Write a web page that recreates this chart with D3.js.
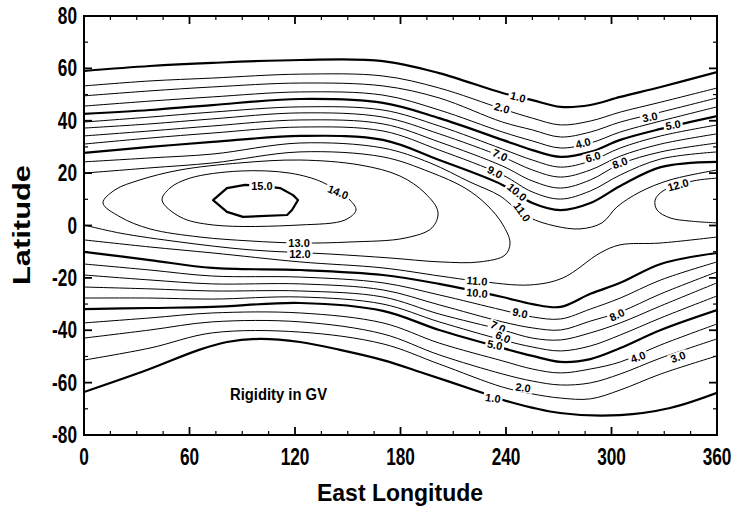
<!DOCTYPE html>
<html><head><meta charset="utf-8">
<script src="https://cdn.jsdelivr.net/npm/d3@7"></script>
<style>body{margin:0;background:#fff}</style>
</head><body>
<svg id="c" width="739" height="514"></svg>
<script>
// ---- data (rigidity contours, GV) ----
const lonCols = [0, 37.5, 73, 123, 170, 202, 238, 255, 271, 288, 305, 328, 360];
// northern open contours: latitude at each lonCols entry
const n1  = [59.0, 60.9, 62.1, 63.2, 62.8, 58.2, 50.6, 47.9, 45.3, 46.0, 49.1, 52.9, 58.6];
const n2  = [53.3, 55.2, 56.3, 57.8, 57.1, 52.5, 44.5, 41.0, 38.4, 39.9, 43.3, 47.1, 52.5];
const n3  = [49.5, 51.4, 52.9, 54.4, 53.3, 48.7, 39.5, 36.5, 33.8, 35.7, 39.5, 43.3, 48.7];
const n4  = [45.6, 47.5, 49.1, 51.0, 49.8, 44.1, 35.7, 32.3, 29.6, 31.5, 35.7, 39.9, 45.3];
const n5  = [42.6, 44.1, 46.0, 48.3, 46.8, 41.0, 32.7, 28.8, 26.2, 28.1, 32.7, 36.9, 41.8];
const n6  = [39.5, 41.4, 43.3, 45.3, 44.1, 38.0, 29.2, 25.0, 22.3, 24.6, 29.6, 34.2, 38.4];
const n7  = [37.2, 38.8, 40.7, 43.0, 41.4, 35.0, 26.2, 21.2, 18.5, 21.2, 26.5, 31.1, 35.0];
const n8  = [34.2, 36.1, 38.0, 40.3, 38.8, 31.9, 22.7, 17.0, 14.3, 17.4, 23.5, 28.1, 31.5];
const n9  = [31.1, 33.4, 35.3, 37.6, 36.1, 28.8, 19.3, 12.8, 10.1, 13.2, 19.3, 25.4, 28.1];
const n10 = [27.7, 30.0, 31.9, 34.2, 32.7, 25.0, 15.5,  8.6,  5.9,  8.6, 15.1, 22.3, 24.3];
// southern open contours
const s10 = [-10.1, -13.2, -16.2, -17.0, -18.9, -22.3, -27.3, -30.0, -31.1, -26.1, -21.9, -14.7, -10.5];
const s9  = [-14.7, -17.0, -19.3, -19.7, -21.9, -26.5, -32.3, -34.9, -35.7, -31.9, -27.7, -20.8, -13.9];
const s8  = [-18.9, -20.8, -22.3, -22.3, -24.6, -30.3, -36.8, -39.1, -39.9, -36.5, -33.0, -26.1, -17.7];
const s7  = [-23.5, -24.2, -25.0, -25.0, -27.3, -33.8, -39.9, -43.0, -43.7, -41.0, -37.2, -30.7, -21.9];
const s6  = [-27.7, -27.7, -28.1, -27.3, -30.0, -36.8, -43.7, -46.4, -47.9, -46.0, -41.8, -35.3, -26.9];
const s5  = [-31.9, -31.5, -31.1, -29.6, -32.6, -39.9, -46.8, -49.8, -52.1, -51.0, -46.8, -39.9, -32.3];
const s4  = [-37.2, -35.3, -33.4, -33.4, -37.2, -44.9, -51.7, -54.8, -56.3, -54.8, -52.1, -45.6, -37.6];
const s3  = [-43.0, -39.9, -36.8, -36.8, -41.4, -49.4, -56.7, -59.4, -60.9, -60.1, -56.7, -50.6, -43.3];
const s2  = [-51.4, -46.8, -41.0, -40.7, -45.2, -52.9, -61.7, -64.3, -65.9, -66.2, -62.8, -56.7, -49.8];
// irregular contours as [lon, lat] pairs
const s1 = [[0,-63.6],[35.8,-55.2],[65.4,-47.5],[81.3,-44.5],[100.1,-43.3],[122.8,-44.5],[145.6,-47.5],
  [170,-51.4],[192.8,-56.3],[225.2,-63.6],[242.3,-67.4],[270.7,-71.6],[304.8,-72.4],[333.3,-69.7],[360,-63.9]];
const n11 = [[0,24.3],[37.5,25.8],[73.4,27.3],[122.8,31.5],[170,29.6],[196.8,23.9],[219.5,16.6],[236.6,11.3],
  [245.1,6.7],[253.7,2.9],[267.9,-0.2],[282.1,-1.3],[294.6,1.0],[303.1,7.1],[316.2,12.8],[333.3,17.4],[360,21.2]];
const s11 = [[0,-5.5],[37.5,-8.2],[73.4,-10.5],[122.8,-13.9],[170,-16.2],[202.5,-19.3],[223.5,-21.2],
  [253.7,-22.7],[272.4,-20.0],[293.5,-10.5],[304.8,-7.4],[327.6,-6.7],[360,-4.4]];
const c12a = [[0,20.0],[37.5,22.0],[73.4,23.9],[122.8,28.1],[170,26.2],[196.8,20.4],[216.7,14.3],[229.2,7.8],
  [238.3,0.2],[242.3,-6.7],[239.4,-11.3],[225.2,-13.9],[202.5,-13.9],[174,-12.4],[139.9,-10.9],[94.4,-9.3],
  [54.6,-6.3],[20.5,-2.9],[0,0.2]];
const c12b = [[360,18.1],[346.4,17.0],[329.3,13.2],[324.8,9.7],[325.9,5.9],[333.3,2.9],[344.6,1.7],[360,1.0]];
const c13 = [[10.8,8.6],[17.6,13.6],[31.8,17.4],[54.6,21.2],[88.7,23.9],[122.8,25.0],[157,23.1],[179.7,18.9],
  [193.9,12.4],[201.3,5.2],[197.9,-0.9],[182.6,-4.8],[151.3,-6.3],[122.8,-6.7],[94.4,-5.9],[66,-4.4],
  [37.5,-1.3],[20.5,3.3]];
const c14 = [[44.4,9.7],[48.9,14.3],[60.3,18.1],[88.7,20.8],[117.2,20.0],[135.4,16.6],[144.5,12.8],[151.3,9.7],
  [154.7,5.9],[148.4,2.1],[122.8,0.2],[73.4,0.2],[54.6,3.3]];
const c15 = [[73.4,9.7],[81.3,14.3],[91.6,15.5],[101.2,15.1],[111.5,14.3],[118.9,11.6],[121.7,9.7],[118.3,5.9],
  [115.5,4.0],[90.4,3.3],[81.3,5.2]];
// contour labels: text, lon, lat, angle
const labels = [
  ["1.0",246.8,49.1,15],["2.0",237.7,44.9,15],["7.0",236.6,26.9,25],["9.0",233.7,20.4,28],
  ["10.0",246.3,12.8,40],["11.0",249.1,5.2,55],["4.0",283.8,31.5,-15],["6.0",289.5,26.2,-15],
  ["8.0",304.8,23.9,-20],["3.0",321.9,41.4,-12],["5.0",335.0,38.4,-10],["12.0",337.8,15.5,-15],
  ["14.0",144.5,12.8,22],["15.0",101.2,15.1,0],["13.0",122.3,-6.7,0],["12.0",122.8,-10.9,0],
  ["11.0",223.5,-21.2,5],["10.0",223.5,-25.8,5],["9.0",248.0,-33.4,12],["7.0",235.5,-38.7,25],
  ["6.0",238.3,-42.6,25],["5.0",233.7,-45.6,12],["8.0",303.1,-34.1,-25],["4.0",315.1,-50.2,-20],
  ["3.0",337.8,-50.2,-20],["2.0",249.7,-61.9,8],["1.0",232.6,-65.9,8]
];
const xTicks = [0, 60, 120, 180, 240, 300, 360];
const yTicks = [-80, -60, -40, -20, 0, 20, 40, 60, 80];

// ---- build ----
const svg = d3.select("#c");
const x = d3.scaleLinear().domain([0, 360]).range([84, 717]);
const y = d3.scaleLinear().domain([-80, 80]).range([435, 16]);
const zip = arr => arr.map((v, i) => [lonCols[i], v]);

const contours = [
  {lv:1, p:zip(n1)}, {lv:2, p:zip(n2)}, {lv:3, p:zip(n3)}, {lv:4, p:zip(n4)}, {lv:5, p:zip(n5)},
  {lv:6, p:zip(n6)}, {lv:7, p:zip(n7)}, {lv:8, p:zip(n8)}, {lv:9, p:zip(n9)}, {lv:10, p:zip(n10)},
  {lv:11, p:n11}, {lv:12, p:c12a}, {lv:12, p:c12b},
  {lv:11, p:s11}, {lv:10, p:zip(s10)}, {lv:9, p:zip(s9)}, {lv:8, p:zip(s8)}, {lv:7, p:zip(s7)},
  {lv:6, p:zip(s6)}, {lv:5, p:zip(s5)}, {lv:4, p:zip(s4)}, {lv:3, p:zip(s3)}, {lv:2, p:zip(s2)}, {lv:1, p:s1},
  {lv:13, p:c13, closed:true, curve:d3.curveCatmullRomClosed},
  {lv:14, p:c14, closed:true, curve:d3.curveCatmullRomClosed},
  {lv:15, p:c15, closed:true, curve:d3.curveLinearClosed}
];

svg.append("clipPath").attr("id","clip").append("rect")
  .attr("x",84).attr("y",16).attr("width",633).attr("height",419);
const g = svg.append("g").attr("clip-path","url(#clip)");
contours.forEach(c => {
  const line = d3.line().x(d => x(d[0])).y(d => y(d[1]))
    .curve(c.curve || d3.curveCatmullRom.alpha(0.5));
  g.append("path").attr("d", line(c.p)).attr("fill","none").attr("stroke","#000")
    .attr("stroke-width", c.lv % 5 === 0 || c.lv === 1 ? 2.2 : 1)
    .attr("stroke-linejoin","round");
});

// labels with white gaps
labels.forEach(l => {
  const lg = svg.append("g").attr("transform", `translate(${x(l[1])},${y(l[2])}) rotate(${l[3]})`);
  const t = lg.append("text").text(l[0]).attr("text-anchor","middle").attr("dy","0.36em")
    .attr("font-family","Liberation Sans, Arial, sans-serif").attr("font-weight","bold")
    .attr("font-size",11).attr("fill","#000");
  const w = t.node().getComputedTextLength();
  lg.insert("rect","text").attr("x",-w/2-2).attr("y",-5).attr("width",w+4).attr("height",10).attr("fill","#fff");
});

// frame
svg.append("rect").attr("x",84).attr("y",16).attr("width",633).attr("height",419)
  .attr("fill","none").attr("stroke","#000").attr("stroke-width",2);

// ticks inward on all sides
const tk = svg.append("g").attr("stroke","#000");
d3.range(0, 361, 15).forEach(v => {
  const len = v % 60 === 0 ? 8 : 4, w = v % 60 === 0 ? 1.8 : 1.2;
  tk.append("line").attr("x1",x(v)).attr("x2",x(v)).attr("y1",435).attr("y2",435-len).attr("stroke-width",w);
  tk.append("line").attr("x1",x(v)).attr("x2",x(v)).attr("y1",16).attr("y2",16+len).attr("stroke-width",w);
});
d3.range(-80, 81, 10).forEach(v => {
  const len = v % 20 === 0 ? 8 : 4, w = v % 20 === 0 ? 1.8 : 1.2;
  tk.append("line").attr("y1",y(v)).attr("y2",y(v)).attr("x1",84).attr("x2",84+len).attr("stroke-width",w);
  tk.append("line").attr("y1",y(v)).attr("y2",y(v)).attr("x1",717).attr("x2",717-len).attr("stroke-width",w);
});

const font = "Liberation Sans, Arial, sans-serif";
xTicks.forEach(v => {
  svg.append("text").text(v).attr("transform",`translate(${x(v)},465) scale(0.75,1)`)
    .attr("text-anchor","middle").attr("font-family",font).attr("font-weight","bold").attr("font-size",23);
});
yTicks.forEach(v => {
  svg.append("text").text(v).attr("transform",`translate(77,${y(v)+8}) scale(0.75,1)`)
    .attr("text-anchor","end").attr("font-family",font).attr("font-weight","bold").attr("font-size",23);
});
svg.append("text").text("East Longitude").attr("x",400).attr("y",501).attr("text-anchor","middle")
  .attr("font-family",font).attr("font-weight","bold").attr("font-size",24)
  .attr("textLength",166).attr("lengthAdjust","spacingAndGlyphs");
svg.append("text").text("Latitude").attr("transform","translate(30,225) rotate(-90)").attr("text-anchor","middle")
  .attr("font-family",font).attr("font-weight","bold").attr("font-size",24)
  .attr("textLength",120).attr("lengthAdjust","spacingAndGlyphs");
svg.append("text").text("Rigidity in GV").attr("x",230).attr("y",400)
  .attr("font-family",font).attr("font-weight","bold").attr("font-size",16)
  .attr("textLength",97).attr("lengthAdjust","spacingAndGlyphs");
</script>
</body></html>
